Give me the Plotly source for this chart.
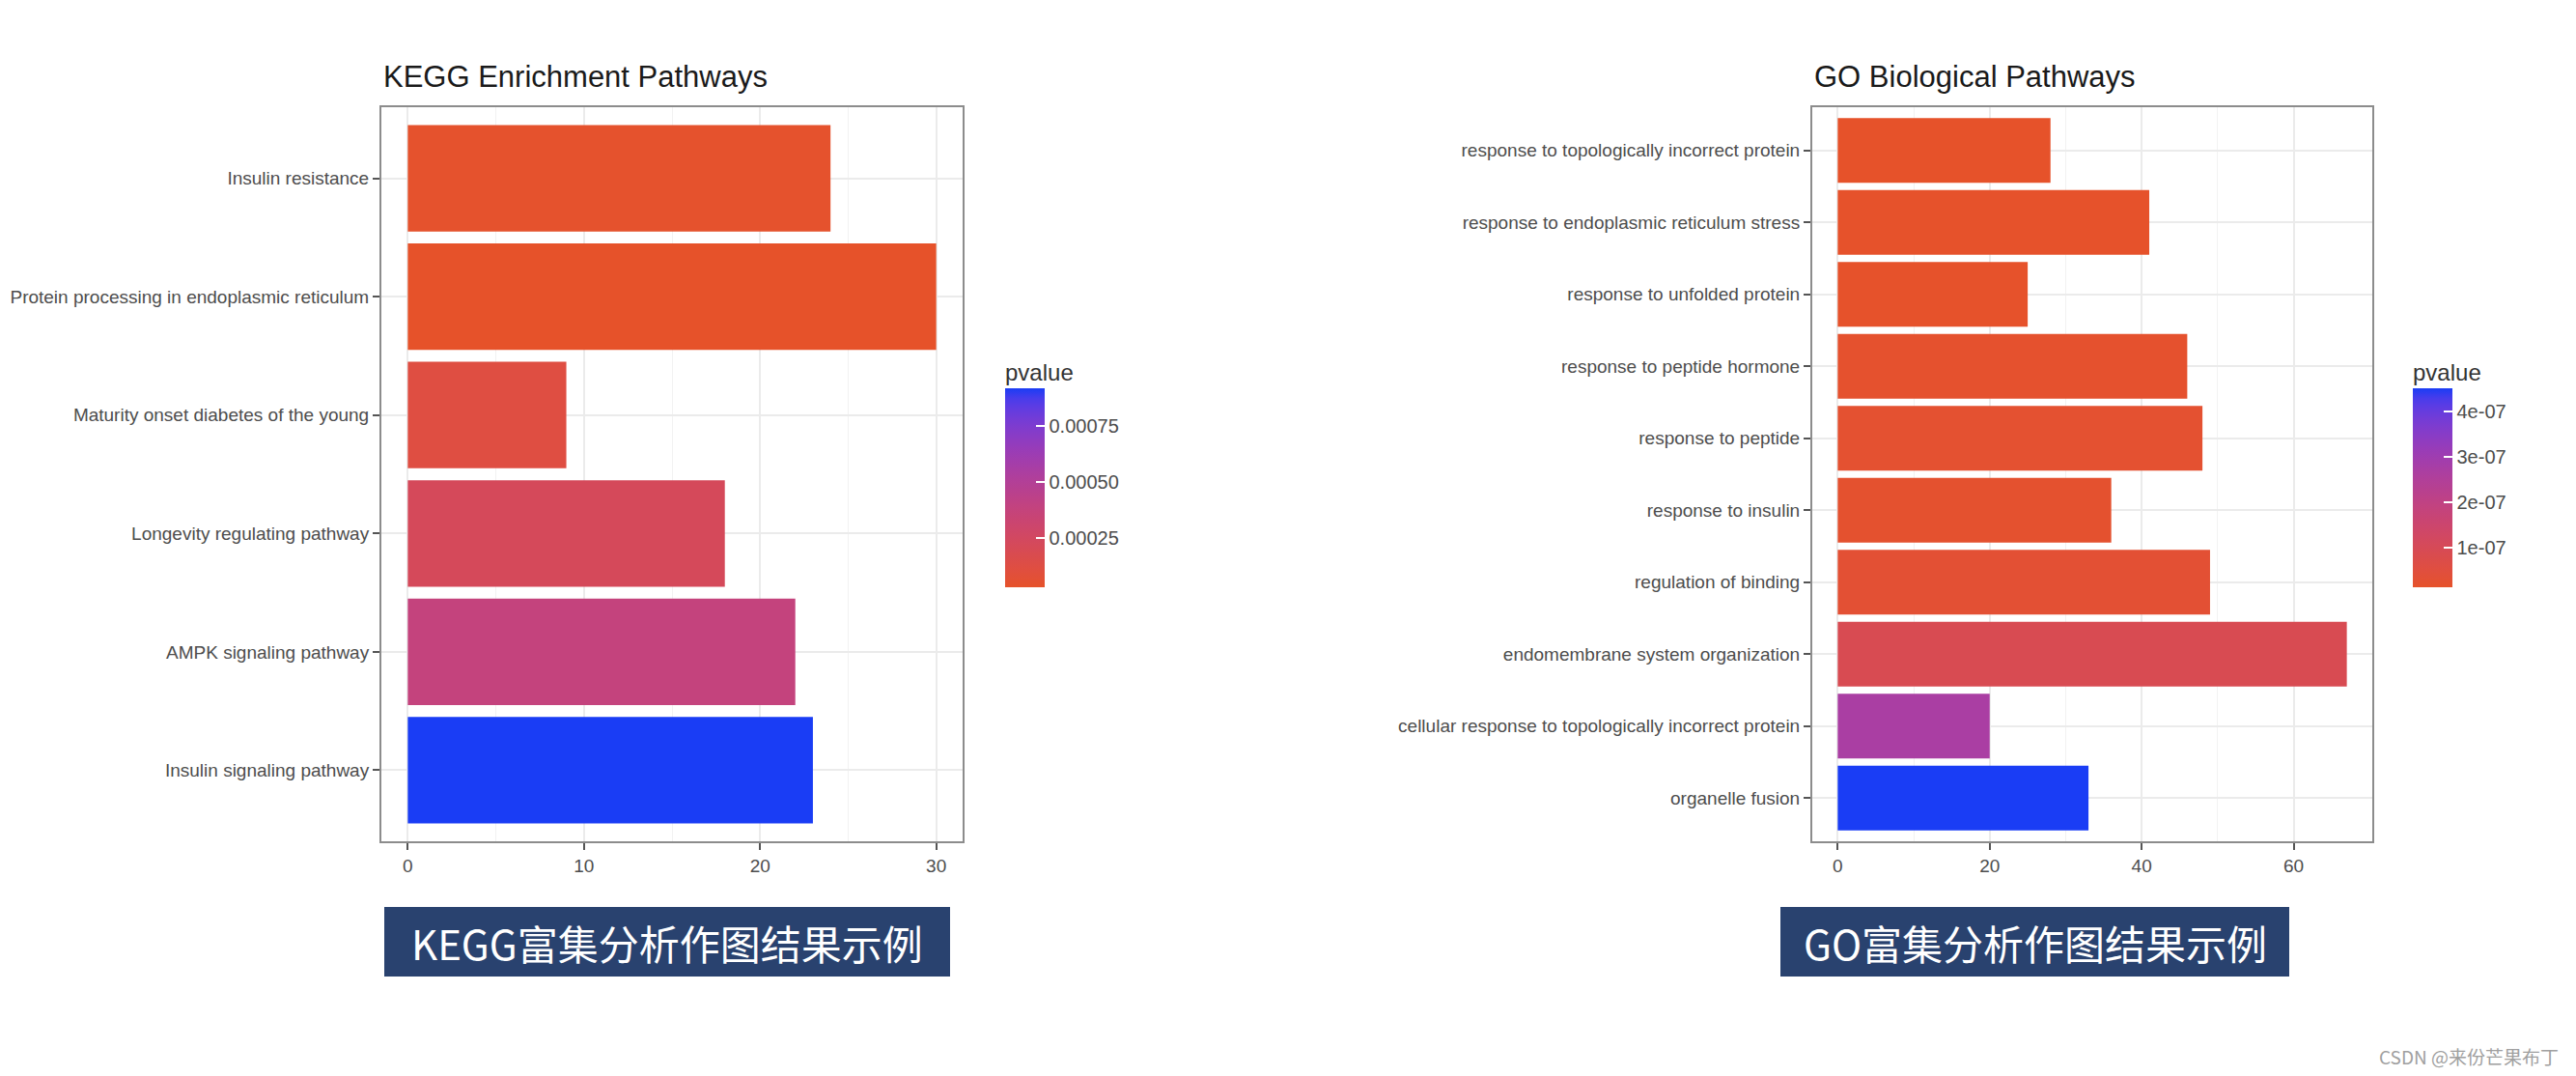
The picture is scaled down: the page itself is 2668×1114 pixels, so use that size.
import numpy as np
import plotly.graph_objects as go

# ---------------- data ----------------
kegg_terms = [
    "Insulin resistance",
    "Protein processing in endoplasmic reticulum",
    "Maturity onset diabetes of the young",
    "Longevity regulating pathway",
    "AMPK signaling pathway",
    "Insulin signaling pathway",
]
kegg_counts = [24, 30, 9, 18, 22, 23]
kegg_pvalues = [4.0e-5, 3.0e-5, 1.2e-4, 2.2e-4, 3.8e-4, 9.2e-4]
kegg_x_ticks = [0, 10, 20, 30]
kegg_x_minor = [5, 15, 25]
kegg_cbar_ticks = [0.00025, 0.00050, 0.00075]
kegg_cbar_labels = ["0.00025", "0.00050", "0.00075"]

go_terms = [
    "response to topologically incorrect protein",
    "response to endoplasmic reticulum stress",
    "response to unfolded protein",
    "response to peptide hormone",
    "response to peptide",
    "response to insulin",
    "regulation of binding",
    "endomembrane system organization",
    "cellular response to topologically incorrect protein",
    "organelle fusion",
]
go_counts = [28, 41, 25, 46, 48, 36, 49, 67, 20, 33]
go_pvalues = [1.3e-8, 1.5e-8, 1.4e-8, 2.0e-8, 2.4e-8, 2.2e-8, 3.0e-8, 0.9e-7, 2.7e-7, 4.5e-7]
go_x_ticks = [0, 20, 40, 60]
go_x_minor = [10, 30, 50]
go_cbar_ticks = [1e-7, 2e-7, 3e-7, 4e-7]
go_cbar_labels = ["1e-07", "2e-07", "3e-07", "4e-07"]

kegg_title = "KEGG Enrichment Pathways"
go_title = "GO Biological Pathways"
kegg_banner = "KEGG富集分析作图结果示例"
go_banner = "GO富集分析作图结果示例"
watermark = "CSDN @来份芒果布丁"
legend_title = "pvalue"

# ---------------- styling helpers ----------------
PAGE_W, PAGE_H = 2668, 1114
OFF = 8  # default page body margin
W, H = PAGE_W - 2 * OFF, PAGE_H - 2 * OFF
LOW, HIGH = "#E6522A", "#1A3DF5"


def hex2rgb(h):
    h = h.lstrip("#")
    return np.array([int(h[i:i + 2], 16) for i in (0, 2, 4)], dtype=float)


M = np.array([[0.4124564, 0.3575761, 0.1804375],
              [0.2126729, 0.7151522, 0.0721750],
              [0.0193339, 0.1191920, 0.9503041]])
Minv = np.linalg.inv(M)
WHITE = np.array([0.95047, 1.0, 1.08883])


def rgb2lab(rgb):
    c = rgb / 255.0
    c = np.where(c <= 0.04045, c / 12.92, ((c + 0.055) / 1.055) ** 2.4)
    xyz = M @ c / WHITE
    f = np.where(xyz > 216 / 24389, np.cbrt(xyz), (24389 / 27 * xyz + 16) / 116)
    return np.array([116 * f[1] - 16, 500 * (f[0] - f[1]), 200 * (f[1] - f[2])])


def lab2rgb(lab):
    L, a, b = lab
    fy = (L + 16) / 116
    fx = fy + a / 500
    fz = fy - b / 200
    f = np.array([fx, fy, fz])
    xyz = np.where(f ** 3 > 216 / 24389, f ** 3, (116 * f - 16) / (24389 / 27)) * WHITE
    c = Minv @ xyz
    c = np.clip(c, 0, 1)
    c = np.where(c <= 0.0031308, 12.92 * c, 1.055 * c ** (1 / 2.4) - 0.055)
    c = np.clip(np.round(c * 255), 0, 255).astype(int)
    return "rgb(%d,%d,%d)" % tuple(c)


lab_lo, lab_hi = rgb2lab(hex2rgb(LOW)), rgb2lab(hex2rgb(HIGH))
colorscale = [[t, lab2rgb(lab_lo + (lab_hi - lab_lo) * t)] for t in np.linspace(0, 1, 21)]


def px_x(p):
    return (p - OFF) / W


def px_y(p):
    return 1 - (p - OFF) / H


def expand(vals):
    hi = max(vals)
    return [-0.05 * hi, hi * 1.05]


FONT = "Liberation Sans, Arial, sans-serif"
CJK = "Noto Sans CJK SC"
TICK_COL = "#4D4D4D"
GRID = "#EBEBEB"
BORDER = "#8C8C8C"

fig = go.Figure()


def add_panel(terms, counts, pvals, xa, ya, cbar_x, cbar_ticks, cbar_labels):
    fig.add_trace(go.Bar(
        y=terms, x=counts, orientation="h",
        xaxis=xa, yaxis=ya,
        marker=dict(
            color=pvals, colorscale=colorscale,
            cmin=min(pvals), cmax=max(pvals),
            line=dict(width=0),
            colorbar=dict(
                x=px_x(cbar_x), xanchor="left", xpad=0,
                y=px_y(608), yanchor="bottom", ypad=0,
                lenmode="pixels", len=206,
                thicknessmode="pixels", thickness=41,
                outlinewidth=0,
                tickmode="array", tickvals=cbar_ticks, ticktext=cbar_labels,
                ticks="inside", tickcolor="white", ticklen=9, tickwidth=1.5,
                tickfont=dict(size=20, color=TICK_COL, family=FONT),
            ),
        ),
        showlegend=False,
    ))


add_panel(kegg_terms, kegg_counts, kegg_pvalues, "x", "y", 1041, kegg_cbar_ticks, kegg_cbar_labels)
add_panel(go_terms, go_counts, go_pvalues, "x2", "y2", 2499, go_cbar_ticks, go_cbar_labels)

common_x = dict(
    showgrid=True, gridcolor=GRID, gridwidth=2, zeroline=False,
    showline=True, mirror=True, linecolor=BORDER, linewidth=2,
    ticks="outside", ticklen=7, tickwidth=1.5, tickcolor="#555555",
    tickfont=dict(size=19, color=TICK_COL, family=FONT),
    tickmode="array",
)
common_y = dict(
    type="category", categoryorder="array",
    showgrid=True, gridcolor=GRID, gridwidth=2, zeroline=False,
    showline=True, mirror=True, linecolor=BORDER, linewidth=2,
    ticks="outside", ticklen=7, tickwidth=1.5, tickcolor="#555555",
    tickfont=dict(size=19, color=TICK_COL, family=FONT),
)

y_dom = [px_y(871), px_y(111)]

fig.update_layout(
    width=W, height=H, autosize=False,
    margin=dict(l=0, r=0, t=0, b=0),
    paper_bgcolor="white", plot_bgcolor="white",
    font=dict(family=FONT),
    bargap=0.1,
    xaxis=dict(common_x, domain=[px_x(395), px_x(997)], anchor="y",
               range=expand(kegg_counts), tickvals=kegg_x_ticks,
               minor=dict(tickmode="array", tickvals=kegg_x_minor, showgrid=True,
                          gridcolor="#F2F2F2", gridwidth=1, ticks="")),
    yaxis=dict(common_y, domain=y_dom, anchor="x", categoryarray=kegg_terms,
               range=[len(kegg_terms) - 0.4, -0.6]),
    xaxis2=dict(common_x, domain=[px_x(1877), px_x(2457)], anchor="y2",
                range=expand(go_counts), tickvals=go_x_ticks,
                minor=dict(tickmode="array", tickvals=go_x_minor, showgrid=True,
                           gridcolor="#F2F2F2", gridwidth=1, ticks="")),
    yaxis2=dict(common_y, domain=y_dom, anchor="x2", categoryarray=go_terms,
                range=[len(go_terms) - 0.4, -0.6]),
)

ann = []
for text, x in [(kegg_title, 395), (go_title, 1877)]:
    ann.append(dict(text=text, xref="paper", yref="paper", x=px_x(x), y=px_y(80),
                    xanchor="left", yanchor="middle", showarrow=False,
                    font=dict(size=31, color="#1A1A1A", family=FONT)))
for x in [1041, 2499]:
    ann.append(dict(text=legend_title, xref="paper", yref="paper", x=px_x(x - 2), y=px_y(385),
                    xanchor="left", yanchor="middle", showarrow=False,
                    font=dict(size=24, color="#333333", family=FONT)))

shapes = []
for text, x0, x1 in [(kegg_banner, 398, 984), (go_banner, 1844, 2371)]:
    shapes.append(dict(type="rect", xref="paper", yref="paper",
                       x0=px_x(x0), x1=px_x(x1), y0=px_y(1011), y1=px_y(939),
                       fillcolor="#29426F", line=dict(width=0), layer="above"))
    ann.append(dict(text=text, xref="paper", yref="paper", x=px_x((x0 + x1) / 2), y=px_y(975),
                    xanchor="center", yanchor="middle", showarrow=False,
                    font=dict(size=42, color="white", family=CJK)))

ann.append(dict(text=watermark, xref="paper", yref="paper", x=px_x(2462), y=px_y(1093),
                xanchor="left", yanchor="middle", showarrow=False,
                font=dict(size=19, color="#A0A0A0", family=CJK)))

fig.update_layout(annotations=ann, shapes=shapes)
fig.write_html("out.html")
